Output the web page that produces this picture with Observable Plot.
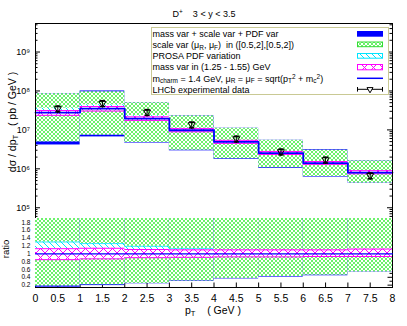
<!DOCTYPE html>
<html><head><meta charset="utf-8">
<script src="https://cdn.jsdelivr.net/npm/d3@7"></script>
<script src="https://cdn.jsdelivr.net/npm/@observablehq/plot@0.6"></script>
<style>
body{margin:0;background:#fff;}
#wrap{position:relative;width:407px;height:326px;font-family:"Liberation Sans",Arial,sans-serif;color:#000;overflow:hidden;background:#fff}
#wrap svg{position:absolute;left:0}
.t{position:absolute;white-space:pre;line-height:1}
.sub{font-size:0.72em;position:relative;top:0.3em}
.sup{font-size:0.72em;position:relative;top:-0.45em}
</style></head><body><div id="wrap"></div>
<script>
// ---------------- data ----------------
const binEdges = [0, 1, 2, 3, 4, 5, 6, 7, 8];
const central  = [2.78e7, 3.5e7, 1.95e7, 9.8e6, 4.9e6, 2.54e6, 1.4e6, 8.0e5];
const scaleLo  = [4.9e6, 7.3e6, 4.75e6, 3.0e6, 1.82e6, 1.07e6, 6.35e5, 4.3e5];
const scaleHi  = [8.5e7, 9.5e7, 5.0e7, 2.29e7, 1.1e7, 5.4e6, 3.0e6, 1.6e6];
const totalLo  = [4.1e6, 6.6e6, 4.6e6, 2.9e6, 1.76e6, 1.03e6, 6.15e5, 4.3e5];
const totalHi  = [8.5e7, 1.0e8, 5.0e7, 2.29e7, 1.1e7, 5.4e6, 3.1e6, 1.6e6];
const pdfLoRatio  = [0.87, 0.89, 0.90, 0.92, 0.93, 0.94, 0.94, 0.94];
const pdfHiRatio  = [1.30, 1.26, 1.19, 1.13, 1.09, 1.08, 1.07, 1.07];
const massLoRatio = [0.85, 0.87, 0.90, 0.91, 0.92, 0.92, 0.93, 0.93];
const massHiRatio = [1.13, 1.14, 1.11, 1.10, 1.10, 1.10, 1.10, 1.12];
const lhcbPt  = [0.5, 1.5, 2.5, 3.5, 4.5, 5.5, 6.5, 7.5];
const lhcb    = [3.5e7, 4.8e7, 2.84e7, 1.36e7, 5.9e6, 2.75e6, 1.7e6, 6.7e5];
const lhcbErr = [6.0e6, 8.2e6, 4.8e6, 2.3e6, 1.0e6, 4.7e5, 2.9e5, 1.15e5];

const xTicks = [0, 0.5, 1, 1.5, 2, 2.5, 3, 3.5, 4, 4.5, 5, 5.5, 6, 6.5, 7, 7.5, 8];
const decadeTicks = [1e5, 1e6, 1e7, 1e8, 1e9];
const ratioTicks = [0.2, 0.4, 0.6, 0.8, 1, 1.2, 1.4, 1.6, 1.8];
const ratioMinor = [0.3, 0.5, 0.7, 0.9, 1.1, 1.3, 1.5, 1.7];
const topDomain = [5.3e4, 5.4e9];
const ratioDomain = [0.14, 1.9];

const title = "D<span class=sup>+</span>    3 &lt; y &lt; 3.5";
const yLabelTop = "dσ / dp<span class=sub>T</span>   ( pb / GeV )";
const yLabelRatio = "ratio";
const xLabel = "p<span class=sub>T</span>    ( GeV )";
const legendLabels = [
  "mass var + scale var + PDF var",
  "scale var (μ<span class=sub>R</span>, μ<span class=sub>F</span>)  in ([0.5,2],[0.5,2])",
  "PROSA PDF variation",
  "mass var in (1.25 - 1.55) GeV",
  "m<span class=sub>charm</span> = 1.4 GeV, μ<span class=sub>R</span> = μ<span class=sub>F</span> = sqrt(p<span class=sub>T</span><span class=sup>2</span> + m<span class=sub>c</span><span class=sup>2</span>)",
  "LHCb experimental data"
];

(function () {
// ---------------- styles ----------------
const BLUE = "#0000ff", GREEN = "#5cf05c", CYAN = "#00e5ff", MAGENTA = "#ff00ff";
const FONT = "'Liberation Sans', Arial, sans-serif";

// ---------------- derived tables ----------------
const bins = central.map((c, i) => ({
  x1: binEdges[i], x2: binEdges[i + 1], c,
  sLo: scaleLo[i], sHi: scaleHi[i], tLo: totalLo[i], tHi: totalHi[i],
  pLo: c * pdfLoRatio[i], pHi: c * pdfHiRatio[i],
  mLo: c * massLoRatio[i], mHi: c * massHiRatio[i],
  rsLo: scaleLo[i] / c, rsHi: scaleHi[i] / c, rtLo: totalLo[i] / c, rtHi: totalHi[i] / c,
  rpLo: pdfLoRatio[i], rpHi: pdfHiRatio[i], rmLo: massLoRatio[i], rmHi: massHiRatio[i]
}));
const steps = binEdges.map((e, i) => ({x: e, y: central[Math.min(i, central.length - 1)], r: 1}));
const pts = lhcb.map((v, i) => ({x: lhcbPt[i], y: v, lo: v - lhcbErr[i], hi: v + lhcbErr[i]}));
const minorTop = [];
for (let e = 4; e <= 9; e++) for (let k = 2; k <= 9; k++) {
  const v = k * Math.pow(10, e);
  if (v > topDomain[0] && v < topDomain[1]) minorTop.push(v);
}
const supDigits = "⁰¹²³⁴⁵⁶⁷⁸⁹";
const fmtPow = d => "10" + String(Math.round(Math.log10(d))).split("").map(c => supDigits[+c]).join("");
const capSym = {draw(ctx) { ctx.moveTo(-2.6, 0); ctx.lineTo(2.6, 0); }};

function addPatterns(svg, sfx) {
  const defs = d3.select(svg).insert("defs", ":first-child");
  const pg = defs.append("pattern").attr("id", "pg" + sfx).attr("patternUnits", "userSpaceOnUse").attr("width", 4).attr("height", 4);
  pg.append("rect").attr("width", 4).attr("height", 4).attr("fill", "#fff");
  pg.append("path").attr("d", "M0,0L4,4M4,0L0,4").attr("stroke", GREEN).attr("stroke-width", 0.9).attr("fill", "none");
  const pc = defs.append("pattern").attr("id", "pc" + sfx).attr("patternUnits", "userSpaceOnUse").attr("width", 6).attr("height", 6);
  pc.append("rect").attr("width", 6).attr("height", 6).attr("fill", "#fff");
  pc.append("path").attr("d", "M-1,-1L7,7M-1,5L1,7M5,-1L7,1").attr("stroke", CYAN).attr("stroke-width", 1).attr("fill", "none");
  const pm = defs.append("pattern").attr("id", "pm" + sfx).attr("patternUnits", "userSpaceOnUse").attr("width", 9).attr("height", 9);
  pm.append("rect").attr("width", 9).attr("height", 9).attr("fill", "#fff");
  pm.append("path").attr("d", "M0,0L9,9M9,0L0,9").attr("stroke", MAGENTA).attr("stroke-width", 1).attr("fill", "none");
}

const wrap = document.getElementById("wrap");
const FW = 357; // frame width

// ---------------- top panel ----------------
const topPlot = Plot.plot({
  width: 407, height: 219, marginLeft: 35, marginRight: 15, marginTop: 23, marginBottom: 1,
  style: {fontFamily: FONT, fontSize: "9px", background: "transparent", overflow: "visible"},
  x: {domain: [0, 8], axis: null},
  y: {type: "log", domain: topDomain, axis: null},
  marks: [
    Plot.tickY(decadeTicks, {y: d => d, insetRight: FW - 5, stroke: "black"}),
    Plot.tickY(decadeTicks, {y: d => d, insetLeft: FW - 5, stroke: "black"}),
    Plot.tickY(minorTop, {y: d => d, insetRight: FW - 2.5, stroke: "black"}),
    Plot.tickY(minorTop, {y: d => d, insetLeft: FW - 2.5, stroke: "black"}),
    Plot.rect(bins, {x1: "x1", x2: "x2", y1: "tLo", y2: "tHi", fill: BLUE}),
    Plot.rect(bins, {x1: "x1", x2: "x2", y1: "sLo", y2: "sHi", fill: "url(#pgT)"}),
    Plot.rect(bins, {x1: "x1", x2: "x2", y1: "pLo", y2: "pHi", fill: "url(#pcT)"}),
    Plot.rect(bins, {x1: "x1", x2: "x2", y1: "mLo", y2: "mHi", fill: "url(#pmT)"}),
    Plot.ruleY(bins, {x1: "x1", x2: "x2", y: "mLo", stroke: MAGENTA}),
    Plot.ruleY(bins, {x1: "x1", x2: "x2", y: "mHi", stroke: MAGENTA}),
    Plot.line(steps, {x: "x", y: "y", curve: "step-after", stroke: BLUE, strokeWidth: 1.8}),
    Plot.ruleX(pts, {x: "x", y1: "lo", y2: "hi", stroke: "black"}),
    Plot.dot(pts, {x: "x", y: "lo", symbol: capSym, stroke: "black", r: 3}),
    Plot.dot(pts, {x: "x", y: "hi", symbol: capSym, stroke: "black", r: 3}),
    Plot.dot(pts, {x: "x", y: "y", symbol: "triangle", rotate: 180, r: 2.6, stroke: "black", fill: "none", strokeWidth: 1}),
    Plot.frame({stroke: "black"}),
    Plot.axisY({ticks: decadeTicks, tickFormat: fmtPow, tickSize: 0, tickPadding: 5.5, label: null, fontSize: 9})
  ]
});
topPlot.style.top = "0px";
addPatterns(topPlot, "T");
wrap.appendChild(topPlot);

// ---------------- ratio panel ----------------
const ratioPlot = Plot.plot({
  width: 407, height: 109, marginLeft: 35, marginRight: 15, marginTop: 1, marginBottom: 39,
  style: {fontFamily: FONT, fontSize: "9px", background: "transparent", overflow: "visible"},
  x: {domain: [0, 8]},
  y: {domain: ratioDomain},
  marks: [
    Plot.tickX(xTicks, {x: d => d, insetTop: 69 - 4.5, stroke: "black"}),
    Plot.tickY(ratioTicks, {y: d => d, insetRight: FW - 4.5, stroke: "black"}),
    Plot.tickY(ratioTicks, {y: d => d, insetLeft: FW - 4.5, stroke: "black"}),
    Plot.tickY(ratioMinor, {y: d => d, insetRight: FW - 2.5, stroke: "black"}),
    Plot.tickY(ratioMinor, {y: d => d, insetLeft: FW - 2.5, stroke: "black"}),
    Plot.frame({stroke: "black"}),
    Plot.rect(bins, {x1: "x1", x2: "x2", y1: "rtLo", y2: "rtHi", fill: BLUE, clip: true}),
    Plot.rect(bins, {x1: "x1", x2: "x2", y1: "rsLo", y2: "rsHi", fill: "url(#pgR)", clip: true}),
    Plot.rect(bins, {x1: "x1", x2: "x2", y1: "rpLo", y2: "rpHi", fill: "url(#pcR)"}),
    Plot.ruleY(bins, {x1: "x1", x2: "x2", y: "rpHi", stroke: CYAN, strokeWidth: 0.8}),
    Plot.rect(bins, {x1: "x1", x2: "x2", y1: "rmLo", y2: "rmHi", fill: "url(#pmR)"}),
    Plot.ruleY(bins, {x1: "x1", x2: "x2", y: "rmLo", stroke: MAGENTA}),
    Plot.ruleY(bins, {x1: "x1", x2: "x2", y: "rmHi", stroke: MAGENTA}),
    Plot.line(steps, {x: "x", y: "r", curve: "step-after", stroke: BLUE, strokeWidth: 1.2}),
    Plot.ruleY([ratioDomain[0]], {stroke: "black"}),
    Plot.axisY({ticks: ratioTicks, tickFormat: d => String(Math.round(d * 10) / 10), tickSize: 0, tickPadding: 5, label: null, fontSize: 6.5}),
    Plot.axisX({ticks: xTicks, tickFormat: d => String(d), tickSize: 0, tickPadding: 7, label: null, fontSize: 10.5})
  ]
});
ratioPlot.style.top = "217px";
addPatterns(ratioPlot, "R");
wrap.appendChild(ratioPlot);

// ---------------- texts ----------------
function addText(html, x, y, size, rotate) {
  const d = document.createElement("div");
  d.className = "t";
  d.innerHTML = html;
  d.style.left = x + "px"; d.style.top = y + "px"; d.style.fontSize = size + "px";
  d.style.transform = "translate(-50%,-50%)" + (rotate ? " rotate(-90deg)" : "");
  wrap.appendChild(d);
}
addText(title, 204, 14, 9);
addText(yLabelTop, 12, 122, 10.5, true);
addText(yLabelRatio, 5.5, 249, 9.5, true);
addText(xLabel, 213, 310, 10.5);

// ---------------- legend ----------------
const box = document.createElement("div");
Object.assign(box.style, {position: "absolute", left: "151px", top: "27px", width: "238px", height: "68px",
  border: "1.5px solid #c9c994", background: "#fff", boxSizing: "border-box"});
wrap.appendChild(box);
const rowY = [33.7, 44.9, 56.1, 67.3, 78.5, 89.7];
legendLabels.forEach((h, i) => {
  const d = document.createElement("div");
  d.className = "t";
  d.innerHTML = h;
  d.style.left = "152.5px"; d.style.top = rowY[i] + "px"; d.style.fontSize = "9px";
  d.style.transform = "translateY(-50%)";
  wrap.appendChild(d);
});
const lsvg = d3.select(wrap).append("svg").attr("width", 407).attr("height", 100).style("top", "0px");
addPatterns(lsvg.node(), "L");
lsvg.append("rect").attr("x", 357).attr("y", 31).attr("width", 26).attr("height", 5.7).attr("fill", BLUE);
lsvg.append("rect").attr("x", 357.5).attr("y", 42).attr("width", 25).attr("height", 4.7).attr("fill", "url(#pgL)").attr("stroke", "#33dd33");
lsvg.append("rect").attr("x", 357.5).attr("y", 53.5).attr("width", 25).attr("height", 4.7).attr("fill", "url(#pcL)").attr("stroke", CYAN);
lsvg.append("rect").attr("x", 357.5).attr("y", 64.5).attr("width", 25).attr("height", 5.3).attr("fill", "url(#pmL)").attr("stroke", MAGENTA);
lsvg.append("line").attr("x1", 357).attr("x2", 383).attr("y1", 78.3).attr("y2", 78.3).attr("stroke", BLUE).attr("stroke-width", 1.5);
lsvg.append("path").attr("d", "M357,89.3H383M357.5,87V91.6M382.5,87V91.6").attr("stroke", "black").attr("fill", "none");
lsvg.append("path").attr("d", "M367,87.6L373,87.6L370,92.8Z").attr("stroke", "black").attr("fill", "#fff");
})();
</script></body></html>
